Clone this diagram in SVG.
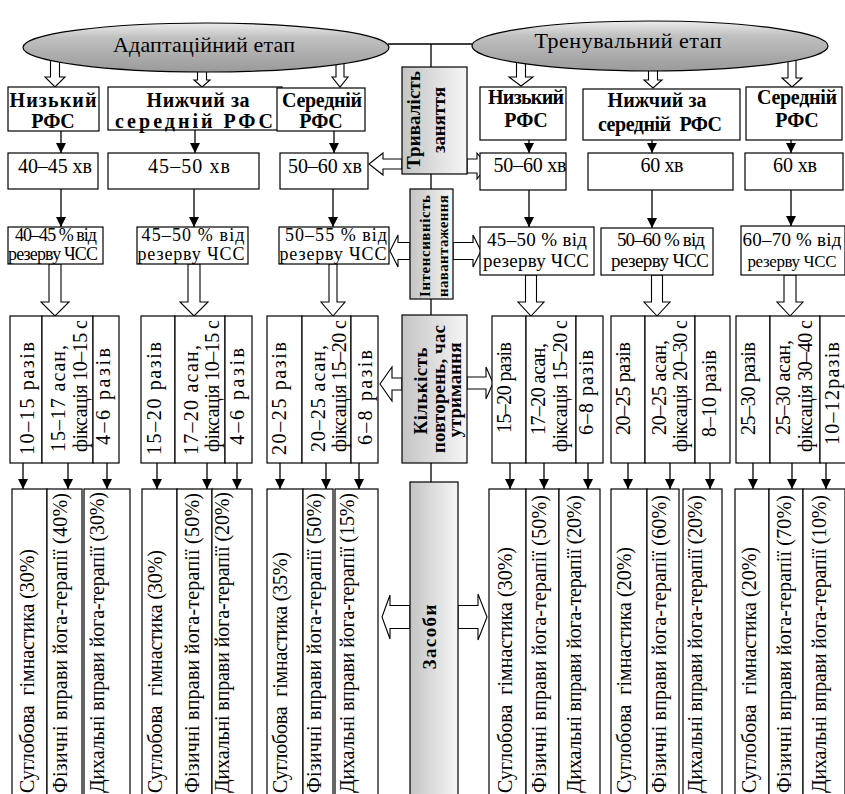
<svg xmlns="http://www.w3.org/2000/svg" width="845" height="794" viewBox="0 0 845 794" font-family="'Liberation Serif', 'DejaVu Serif', serif">
  <defs>
    <linearGradient id="ellGrad" x1="0" y1="0" x2="0" y2="1">
      <stop offset="0" stop-color="#ececec"/>
      <stop offset="0.3" stop-color="#c0c0c0"/>
      <stop offset="1" stop-color="#9a9a9a"/>
    </linearGradient>
    <linearGradient id="barGrad" x1="0" y1="0" x2="1" y2="0">
      <stop offset="0" stop-color="#c4c4c4"/>
      <stop offset="1" stop-color="#f6f6f6"/>
    </linearGradient>
    <marker id="ah" markerUnits="userSpaceOnUse" markerWidth="10" markerHeight="10" refX="10" refY="5" orient="auto">
      <path d="M0,0 L10,5 L0,10 z" fill="#000"/>
    </marker>
  </defs>
  <style>
    .box{fill:#fff;stroke:#000;stroke-width:1.2}
    .bar{fill:url(#barGrad);stroke:#000;stroke-width:1.2}
    .ell{fill:url(#ellGrad);stroke:#000;stroke-width:1.2}
    .hol{fill:#fff;stroke:#000;stroke-width:1.1}
    .ln{fill:none;stroke:#000;stroke-width:1.3}
    .ar{fill:none;stroke:#000;stroke-width:1.3;marker-end:url(#ah)}
    .t{font-family:"Liberation Serif","DejaVu Serif",serif;font-size:20px;fill:#000}
    .s{font-size:18px}
    .e{font-size:22px}
    .m{font-size:19px}
    .n{font-size:15px}
    .b{font-weight:bold}
    .c{text-anchor:middle}
  </style>

  <!-- connectors: spine lines, solid and hollow arrows -->
  <g id="connectors">
    <path class="ln" d="M388,44 H472 M431,44 V67 M431,174 V189 M431,299 V315 M431,463 V482"/>
    <!-- hollow arrows from the stage ellipses -->
    <polygon class="hol" points="50.5,60 59.5,60 59.5,77 65,77 55,87 45,77 50.5,77"/>
    <polygon class="hol" points="197.5,60 206.5,60 206.5,80 210,80 202,87 194,80 197.5,80"/>
    <polygon class="hol" points="336,60 344,60 344,77 348,77 340,87 332,77 336,77"/>
    <polygon class="hol" points="516.5,55 525.5,55 525.5,77 533,77 521,86 509,77 516.5,77"/>
    <polygon class="hol" points="648.5,60 657.5,60 657.5,80 662,80 653,88 644,80 648.5,80"/>
    <polygon class="hol" points="788,55 796,55 796,78 802,78 792,87 782,78 788,78"/>
    <!-- solid arrows: level -> duration -->
    <path class="ar" d="M61,131 V153"/>
    <path class="ar" d="M195,130 V153"/>
    <path class="ar" d="M334,131 V153"/>
    <path class="ar" d="M529,140 V153"/>
    <path class="ar" d="M652,140 V153"/>
    <path class="ar" d="M791,140 V153"/>
    <!-- solid arrows: duration -> intensity -->
    <path class="ar" d="M61,189 V227"/>
    <path class="ar" d="M194,189 V227"/>
    <path class="ar" d="M333,189 V227"/>
    <path class="ar" d="M529,190 V227"/>
    <path class="ar" d="M652,190 V228"/>
    <path class="ar" d="M791,190 V226"/>
    <!-- hollow arrows: intensity -> repetitions -->
    <polygon class="hol" points="49,264 61,264 61,302 69,302 55,316 41,302 49,302"/>
    <polygon class="hol" points="188,264 200,264 200,302 208,302 194,316 180,302 188,302"/>
    <polygon class="hol" points="329,264 337,264 337,302 345,302 333,316 321,302 329,302"/>
    <polygon class="hol" points="525.5,275 536.5,275 536.5,302 544,302 531,316 518,302 525.5,302"/>
    <polygon class="hol" points="651.5,275 662.5,275 662.5,302 670,302 657,316 644,302 651.5,302"/>
    <polygon class="hol" points="784,275 796,275 796,302 803,302 790,316 777,302 784,302"/>
    <!-- hollow arrows from the central column -->
    <polygon class="hol" points="402,159 383,159 383,153 369,164 383,175 383,169 402,169"/>
    <polygon class="hol" points="467,159 477,159 477,153 487,166 477,179 477,173 467,173"/>
    <polygon class="hol" points="410,242.5 398,242.5 398,235 390,251 398,267 398,259.5 410,259.5"/>
    <polygon class="hol" points="453,242.5 473,242.5 473,235 481,251 473,267 473,259.5 453,259.5"/>
    <polygon class="hol" points="402,378 392,378 392,367 380,384 392,401 392,390 402,390"/>
    <polygon class="hol" points="467,377 486,377 486,367 493,383 486,399 486,389 467,389"/>
    <polygon class="hol" points="410,605.5 390,605.5 390,595 382,617 390,639 390,628.5 410,628.5"/>
    <polygon class="hol" points="458,605.5 478,605.5 478,594 487,617 478,640 478,628.5 458,628.5"/>
    <!-- solid arrows: repetitions -> means -->
    <path class="ar" d="M23,463 V489"/>
    <path class="ar" d="M68,463 V489"/>
    <path class="ar" d="M107,463 V489"/>
    <path class="ar" d="M157,463 V489"/>
    <path class="ar" d="M207,463 V489"/>
    <path class="ar" d="M237,463 V489"/>
    <path class="ar" d="M280,463 V489"/>
    <path class="ar" d="M326,463 V489"/>
    <path class="ar" d="M359,463 V489"/>
    <path class="ar" d="M510,463 V489"/>
    <path class="ar" d="M544,463 V489"/>
    <path class="ar" d="M588,463 V489"/>
    <path class="ar" d="M628,463 V489"/>
    <path class="ar" d="M670,463 V489"/>
    <path class="ar" d="M710,463 V489"/>
    <path class="ar" d="M753,463 V489"/>
    <path class="ar" d="M792,463 V489"/>
    <path class="ar" d="M826,463 V489"/>
  </g>

  <!-- stage ellipses -->
  <g id="stage-adaptive">
    <ellipse class="ell" cx="206" cy="47.5" rx="183" ry="24.5"/>
    <text class="t e c" x="204" y="52" textLength="182">Адаптаційний етап</text>
  </g>
  <g id="stage-training">
    <ellipse class="ell" cx="650" cy="46" rx="178" ry="25"/>
    <text class="t e c" x="628" y="48" textLength="187">Тренувальний етап</text>
  </g>

  <!-- central column -->
  <g id="duration">
    <rect class="bar" x="402" y="67" width="65" height="107"/>
    <text class="t m b c" transform="translate(420,120) rotate(-90)" textLength="98">Тривалість</text>
    <text class="t m b c" transform="translate(445,120) rotate(-90)" textLength="66">заняття</text>
  </g>
  <g id="intensity">
    <rect class="bar" x="410" y="189" width="43" height="110"/>
    <text class="t n b c" transform="translate(430,246) rotate(-90)" textLength="102">Інтенсивність</text>
    <text class="t n b c" transform="translate(448,246) rotate(-90)" textLength="102">навантаження</text>
  </g>
  <g id="repetitions">
    <rect class="bar" x="402" y="315" width="65" height="148"/>
    <text class="t m b c" transform="translate(427,391) rotate(-90)" textLength="87">Кількість</text>
    <text class="t m b c" transform="translate(445,389) rotate(-90)" textLength="128">повторень, час</text>
    <text class="t m b c" transform="translate(461,390) rotate(-90)" textLength="95">утримання</text>
  </g>
  <g id="means">
    <rect class="bar" x="410" y="482" width="48" height="320"/>
    <text class="t m b c" transform="translate(436,637) rotate(-90)" textLength="65">Засоби</text>
  </g>

  <!-- fitness level boxes -->
  <g id="a-low">
    <rect class="box" x="8" y="87" width="91" height="44"/>
    <text class="t b c" x="53" y="107" textLength="87">Низький</text>
    <text class="t b c" x="53" y="128">РФС</text>
  </g>
  <g id="a-below">
    <rect class="box" x="108" y="87" width="174" height="43"/>
    <text class="t b c" x="198" y="107" textLength="103">Нижчий за</text>
    <text class="t b c" x="194" y="128" textLength="158">середній РФС</text>
  </g>
  <g id="a-mid">
    <rect class="box" x="277" y="88" width="88" height="43"/>
    <text class="t b c" x="322" y="107" textLength="80">Середній</text>
    <text class="t b c" x="321" y="128">РФС</text>
  </g>
  <g id="t-low">
    <rect class="box" x="480" y="87" width="86" height="53"/>
    <text class="t b c" x="526" y="104" textLength="76">Низький</text>
    <text class="t b c" x="526" y="127">РФС</text>
  </g>
  <g id="t-below">
    <rect class="box" x="583" y="89" width="157" height="51"/>
    <text class="t b c" x="657" y="107" textLength="99">Нижчий за</text>
    <text class="t b c" x="660" y="131" textLength="124" xml:space="preserve">середній  РФС</text>
  </g>
  <g id="t-mid">
    <rect class="box" x="746" y="87" width="96" height="53"/>
    <text class="t b c" x="797" y="104" textLength="80">Середній</text>
    <text class="t b c" x="797" y="127">РФС</text>
  </g>

  <!-- duration boxes -->
  <g id="a-low-dur"><rect class="box" x="8" y="153" width="90" height="36"/><text class="t c" x="55" y="173" textLength="74">40–45 хв</text></g>
  <g id="a-below-dur"><rect class="box" x="108" y="153" width="151" height="36"/><text class="t c" x="189" y="173" textLength="82">45–50 хв</text></g>
  <g id="a-mid-dur"><rect class="box" x="280" y="153" width="88" height="36"/><text class="t c" x="325" y="173" textLength="74">50–60 хв</text></g>
  <g id="t-low-dur"><rect class="box" x="480" y="153" width="86" height="37"/><text class="t c" x="530" y="172" textLength="73">50–60 хв</text></g>
  <g id="t-below-dur"><rect class="box" x="588" y="153" width="145" height="37"/><text class="t c" x="662" y="172" textLength="43">60 хв</text></g>
  <g id="t-mid-dur"><rect class="box" x="745" y="153" width="98" height="37"/><text class="t c" x="795" y="172" textLength="44">60 хв</text></g>

  <!-- intensity boxes -->
  <g id="a-low-int">
    <rect class="box" x="8" y="227" width="95" height="37"/>
    <text class="t s c" x="56" y="241" textLength="82">40–45 % від</text>
    <text class="t s c" x="53" y="260" textLength="90">резерву ЧСС</text>
  </g>
  <g id="a-below-int">
    <rect class="box" x="137" y="227" width="111" height="37"/>
    <text class="t s c" x="193" y="241" textLength="103">45–50 % від</text>
    <text class="t s c" x="191" y="260" textLength="107">резерву ЧСС</text>
  </g>
  <g id="a-mid-int">
    <rect class="box" x="279" y="227" width="110" height="37"/>
    <text class="t s c" x="336" y="241" textLength="102">50–55 % від</text>
    <text class="t s c" x="333" y="260" textLength="107">резерву ЧСС</text>
  </g>
  <g id="t-low-int">
    <rect class="box" x="480" y="227" width="114" height="48"/>
    <text class="t m c" x="537" y="246" textLength="100">45–50 % від</text>
    <text class="t m c" x="536" y="267" textLength="106">резерву ЧСС</text>
  </g>
  <g id="t-below-int">
    <rect class="box" x="601" y="228" width="112" height="47"/>
    <text class="t m c" x="661" y="246" textLength="88">50–60 % від</text>
    <text class="t m c" x="660" y="267" textLength="98">резерву ЧСС</text>
  </g>
  <g id="t-mid-int">
    <rect class="box" x="741" y="226" width="104" height="49"/>
    <text class="t m c" x="792" y="246" textLength="99">60–70 % від</text>
    <text class="t c" x="792" y="267" style="font-size:17px" textLength="89">резерву ЧСС</text>
  </g>

  <!-- repetition boxes -->
  <g id="a-low-rep">
    <rect class="box" x="10" y="316" width="32" height="147"/>
    <rect class="box" x="42" y="316" width="51" height="147"/>
    <rect class="box" x="93" y="316" width="26" height="147"/>
    <text class="t" transform="translate(34,455) rotate(-90)" textLength="113">10–15 разів</text>
    <text class="t" transform="translate(65,452) rotate(-90)" textLength="107">15–17 асан,</text>
    <text class="t" transform="translate(87,452) rotate(-90)" textLength="132">фіксація 10–15 с</text>
    <text class="t" transform="translate(110,445) rotate(-90)" textLength="97">4–6 разів</text>
  </g>
  <g id="a-below-rep">
    <rect class="box" x="141" y="316" width="34" height="147"/>
    <rect class="box" x="175" y="316" width="50" height="147"/>
    <rect class="box" x="225" y="316" width="27" height="147"/>
    <text class="t" transform="translate(161,455) rotate(-90)" textLength="113">15–20 разів</text>
    <text class="t" transform="translate(198,455) rotate(-90)" textLength="110">17–20 асан,</text>
    <text class="t" transform="translate(219,452) rotate(-90)" textLength="132">фіксація 10–15 с</text>
    <text class="t" transform="translate(244,445) rotate(-90)" textLength="97">4–6 разів</text>
  </g>
  <g id="a-mid-rep">
    <rect class="box" x="267" y="316" width="35" height="147"/>
    <rect class="box" x="302" y="316" width="49" height="147"/>
    <rect class="box" x="351" y="316" width="27" height="147"/>
    <text class="t" transform="translate(286,455) rotate(-90)" textLength="113">20–25 разів</text>
    <text class="t" transform="translate(325,452) rotate(-90)" textLength="107">20–25 асан,</text>
    <text class="t" transform="translate(346,452) rotate(-90)" textLength="132">фіксація 15–20 с</text>
    <text class="t" transform="translate(372,445) rotate(-90)" textLength="95">6–8 разів</text>
  </g>
  <g id="t-low-rep">
    <rect class="box" x="492" y="316" width="34" height="147"/>
    <rect class="box" x="526" y="316" width="50" height="147"/>
    <rect class="box" x="576" y="316" width="27" height="147"/>
    <text class="t" transform="translate(511,433) rotate(-90)" textLength="91">15–20 разів</text>
    <text class="t" transform="translate(545,435) rotate(-90)" textLength="92">17–20 асан,</text>
    <text class="t" transform="translate(567,452) rotate(-90)" textLength="132">фіксація 15–20 с</text>
    <text class="t" transform="translate(593,435) rotate(-90)" textLength="85">6–8 разів</text>
  </g>
  <g id="t-below-rep">
    <rect class="box" x="611" y="316" width="34" height="147"/>
    <rect class="box" x="645" y="316" width="50" height="147"/>
    <rect class="box" x="695" y="316" width="35" height="147"/>
    <text class="t" transform="translate(630,435) rotate(-90)" textLength="93">20–25 разів</text>
    <text class="t" transform="translate(666,435) rotate(-90)" textLength="95">20–25 асан,</text>
    <text class="t" transform="translate(687,452) rotate(-90)" textLength="132">фіксація 20–30 с</text>
    <text class="t" transform="translate(716,437) rotate(-90)" textLength="87">8–10 разів</text>
  </g>
  <g id="t-mid-rep">
    <rect class="box" x="736" y="316" width="34" height="147"/>
    <rect class="box" x="770" y="316" width="50" height="147"/>
    <rect class="box" x="820" y="316" width="26" height="147"/>
    <text class="t" transform="translate(755,435) rotate(-90)" textLength="93">25–30 разів</text>
    <text class="t" transform="translate(790,435) rotate(-90)" textLength="95">25–30 асан,</text>
    <text class="t" transform="translate(812,452) rotate(-90)" textLength="132">фіксація 30–40 с</text>
    <text class="t" transform="translate(839,445) rotate(-90)" textLength="103">10–12разів</text>
  </g>

  <!-- means boxes -->
  <g id="a-low-means">
    <rect class="box" x="12" y="489" width="35" height="320"/>
    <rect class="box" x="47" y="489" width="35" height="320"/>
    <rect class="box" x="84" y="489" width="46" height="320"/>
    <text class="t" xml:space="preserve" transform="translate(34,793) rotate(-90)" textLength="244">Суглобова  гімнастика (30%)</text>
    <text class="t" transform="translate(67,793) rotate(-90)" textLength="300">Фізичні вправи йога-терапії (40%)</text>
    <text class="t" transform="translate(104,793) rotate(-90)" textLength="301">Дихальні вправи йога-терапії (30%)</text>
  </g>
  <g id="a-below-means">
    <rect class="box" x="142" y="489" width="35" height="320"/>
    <rect class="box" x="177" y="489" width="35" height="320"/>
    <rect class="box" x="212" y="489" width="40" height="320"/>
    <text class="t" xml:space="preserve" transform="translate(162,793) rotate(-90)" textLength="243">Суглобова  гімнастика (30%)</text>
    <text class="t" transform="translate(199,793) rotate(-90)" textLength="300">Фізичні вправи йога-терапії (50%)</text>
    <text class="t" transform="translate(229,793) rotate(-90)" textLength="301">Дихальні вправи йога-терапії (20%)</text>
  </g>
  <g id="a-mid-means">
    <rect class="box" x="267" y="489" width="36" height="320"/>
    <rect class="box" x="303" y="489" width="30" height="320"/>
    <rect class="box" x="335" y="489" width="43" height="320"/>
    <text class="t" xml:space="preserve" transform="translate(287,793) rotate(-90)" textLength="241">Суглобова  гімнастика (35%)</text>
    <text class="t" transform="translate(321,793) rotate(-90)" textLength="300">Фізичні вправи йога-терапії (50%)</text>
    <text class="t" transform="translate(354,793) rotate(-90)" textLength="300">Дихальні вправи йога-терапії (15%)</text>
  </g>
  <g id="t-low-means">
    <rect class="box" x="489" y="489" width="37" height="320"/>
    <rect class="box" x="526" y="489" width="33" height="320"/>
    <rect class="box" x="559" y="489" width="41" height="320"/>
    <text class="t" xml:space="preserve" transform="translate(512,793) rotate(-90)" textLength="246">Суглобова  гімнастика (30%)</text>
    <text class="t" transform="translate(546,793) rotate(-90)" textLength="298">Фізичні вправи йога-терапії (50%)</text>
    <text class="t" transform="translate(581,793) rotate(-90)" textLength="298">Дихальні вправи йога-терапії (20%)</text>
  </g>
  <g id="t-below-means">
    <rect class="box" x="611" y="489" width="36" height="320"/>
    <rect class="box" x="647" y="489" width="32" height="320"/>
    <rect class="box" x="683" y="489" width="39" height="320"/>
    <text class="t" xml:space="preserve" transform="translate(631,793) rotate(-90)" textLength="246">Суглобова  гімнастика (20%)</text>
    <text class="t" transform="translate(666,793) rotate(-90)" textLength="298">Фізичні вправи йога-терапії (60%)</text>
    <text class="t" transform="translate(702,793) rotate(-90)" textLength="298">Дихальні вправи йога-терапії (20%)</text>
  </g>
  <g id="t-mid-means">
    <rect class="box" x="735" y="489" width="34" height="320"/>
    <rect class="box" x="769" y="489" width="34" height="320"/>
    <rect class="box" x="803" y="489" width="42" height="320"/>
    <text class="t" xml:space="preserve" transform="translate(756,793) rotate(-90)" textLength="246">Суглобова  гімнастика (20%)</text>
    <text class="t" transform="translate(791,793) rotate(-90)" textLength="298">Фізичні вправи йога-терапії (70%)</text>
    <text class="t" transform="translate(826,793) rotate(-90)" textLength="298">Дихальні вправи йога-терапії (10%)</text>
  </g>
</svg>
